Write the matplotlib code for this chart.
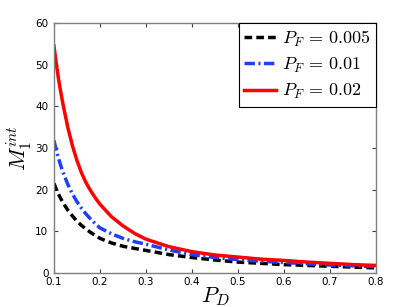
import numpy as np
import matplotlib
matplotlib.use('Agg')
import matplotlib.pyplot as plt

# Values
pd_vals = [0.1, 0.105, 0.11, 0.115, 0.12, 0.13, 0.14, 0.15, 0.16, 0.17, 0.18,
           0.19, 0.2, 0.225, 0.25, 0.275, 0.3, 0.35, 0.4, 0.45, 0.5, 0.55,
           0.6, 0.65, 0.7, 0.75, 0.8]
m_pf005 = [21.5, 20.1, 18.9, 17.8, 16.8, 15.1, 13.7, 12.4, 11.4, 10.5, 9.7,
           9.0, 8.3, 7.2, 6.4, 5.9, 5.4, 4.4, 3.7, 3.1, 2.6, 2.3,
           2.0, 1.8, 1.6, 1.4, 1.2]
m_pf01 = [31.8, 29.5, 27.5, 25.7, 24.1, 21.3, 19.0, 17.1, 15.5, 14.1, 12.9,
          11.8, 10.8, 9.4, 8.3, 7.5, 6.9, 5.5, 4.4, 3.7, 3.2, 2.8,
          2.5, 2.2, 1.9, 1.7, 1.5]
m_pf02 = [54.5, 50.3, 46.5, 43.3, 40.3, 35.0, 30.6, 27.0, 24.0, 21.6, 19.7,
          18.0, 16.5, 13.5, 11.3, 9.5, 8.1, 6.3, 5.1, 4.3, 3.8, 3.3,
          3.0, 2.6, 2.3, 2.0, 1.8]
labels = [r'$P_F\,=\,0.005$', r'$P_F\,=\,0.01$', r'$P_F\,=\,0.02$']

plt.rcParams['mathtext.fontset'] = 'cm'

fig = plt.figure(figsize=(4.15, 3.07), dpi=100)
ax = fig.add_axes([0.130, 0.111, 0.776, 0.814])

ax.plot(pd_vals, m_pf005, color='black', lw=2.5, ls=(0, (2.2, 1.2)), label=labels[0])
ax.plot(pd_vals, m_pf01, color='#1f3fff', lw=2.5, ls=(0, (3, 1, 0.6, 1)), label=labels[1])
ax.plot(pd_vals, m_pf02, color='#ff0000', lw=2.5, ls='-', label=labels[2])

ax.set_xlim(0.1, 0.8)
ax.set_ylim(0, 60)
ax.set_xticks(np.arange(0.1, 0.81, 0.1))
ax.set_yticks(np.arange(0, 61, 10))
ax.set_xticklabels(['0.1', '0.2', '0.3', '0.4', '0.5', '0.6', '0.7', '0.8'])
ax.tick_params(direction='in', top=True, right=True, labelsize=7.5,
               length=3, color='#404040')
ax.tick_params(axis='x', pad=3)
ax.tick_params(axis='y', pad=4)
for s in ax.spines.values():
    s.set_color('#7f7f7f')
    s.set_linewidth(1.0)

ax.set_xlabel(r'$P_D$', fontsize=16, labelpad=-1)
ax.set_ylabel(r'$M_1^{int}$', fontsize=16, labelpad=1)

leg = ax.legend(loc='upper right', fontsize=13, borderaxespad=0,
                fancybox=False, framealpha=1, edgecolor='black',
                handlelength=1.8, handletextpad=0.3, labelspacing=0.4,
                borderpad=0.3)
leg.get_frame().set_linewidth(0.8)

plt.savefig('out.png', dpi=100)
